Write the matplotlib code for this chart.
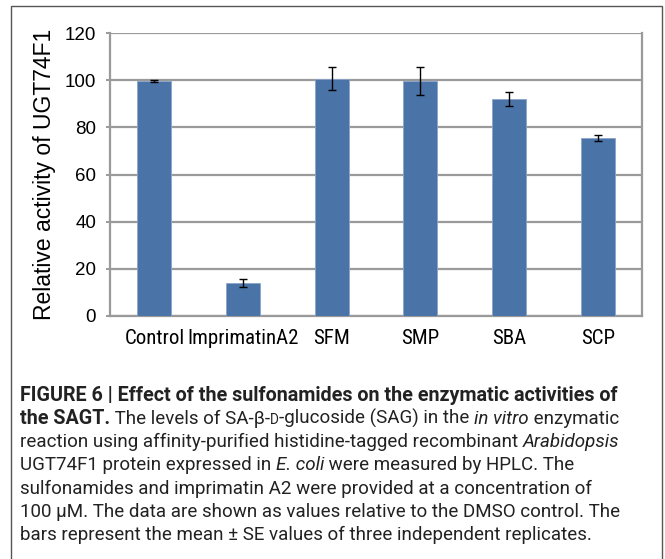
import matplotlib
matplotlib.use("Agg")
import matplotlib.pyplot as plt
import numpy as np
from matplotlib import font_manager
from matplotlib.patches import Rectangle

# data
categories = ["Control", "ImprimatinA2", "SFM", "SMP", "SBA", "SCP"]
activity = [99.6, 13.9, 100.6, 99.5, 92.0, 75.5]
se = [0.3, 1.8, 4.8, 6.0, 3.0, 1.3]
yticks = [0, 20, 40, 60, 80, 100, 120]


def pick_font(names):
    for name in names:
        try:
            font_manager.findfont(name, fallback_to_default=False)
            return name
        except Exception:
            pass
    return "DejaVu Sans"


base_font = pick_font(["Liberation Sans", "Arial"])
narrow_font = pick_font(["Liberation Sans Narrow", "Roboto Condensed", "Liberation Sans"])
caption_font = pick_font(["Roboto", "Liberation Sans"])

plt.rcParams["font.family"] = [base_font, "DejaVu Sans"]

fig = plt.figure(figsize=(6.65, 5.59), dpi=100)
W, H = 665, 559

ax = fig.add_axes([110 / W, 1 - 316 / H, (642 - 110) / W, (316 - 33) / H])

x = np.arange(len(categories))
ax.bar(x, activity, width=0.38, color="#4A73A7", edgecolor="#8AA6CB", linewidth=0.6, zorder=3)
ax.errorbar(x, activity, yerr=se, fmt="none", ecolor="black", elinewidth=1.0,
            capsize=3, capthick=1.0, zorder=4)

ax.set_xlim(-0.5, len(categories) - 0.5)
ax.set_ylim(0, 120)
ax.set_yticks(yticks)
ax.yaxis.grid(True, color="#9A9A9A", linewidth=1.6, zorder=0)
ax.set_axisbelow(True)

for side in ["left", "right", "bottom"]:
    ax.spines[side].set_color("#9A9A9A")
    ax.spines[side].set_linewidth(1.6)
ax.spines["top"].set_visible(False)

ax.tick_params(axis="y", length=3, width=1.4, color="#9A9A9A", pad=7, labelsize=13.5)
ax.tick_params(axis="x", length=0, pad=9)
ax.set_xticks(x)
ax.set_xticklabels(categories, fontsize=15, family=[narrow_font, "DejaVu Sans"])
# Excel placed the first label a little left of its bar
ax.get_xticklabels()[0].set_x(-0.06)
ax.set_ylabel("Relative activity of UGT74F1", fontsize=16.5, labelpad=6)

# frame around the whole panel
fig.patches.append(Rectangle((11 / W, -0.01), (662 - 11) / W, 1 - 6 / H + 0.01,
                             transform=fig.transFigure, fill=False,
                             edgecolor="#555555", linewidth=1.0))

# caption, built piece by piece (text, weight, style)
lines = [
    [("FIGURE 6 | Effect of the sulfonamides on the enzymatic activities of", "bold", "normal")],
    [("the SAGT.", "bold", "normal"), (" The levels of SA-\u03b2-", "normal", "normal"),
     ("D", "small", "normal"), ("-glucoside (SAG) in the ", "normal", "normal"),
     ("in vitro", "normal", "italic"), (" enzymatic", "normal", "normal")],
    [("reaction using affinity-purified histidine-tagged recombinant ", "normal", "normal"),
     ("Arabidopsis", "normal", "italic")],
    [("UGT74F1 protein expressed in ", "normal", "normal"), ("E. coli", "normal", "italic"),
     (" were measured by HPLC. The", "normal", "normal")],
    [("sulfonamides and imprimatin A2 were provided at a concentration of", "normal", "normal")],
    [("100 \u03bcM. The data are shown as values relative to the DMSO control. The", "normal", "normal")],
    [("bars represent the mean \u00b1 SE values of three independent replicates.", "normal", "normal")],
]
baselines = [401, 424, 447, 470, 494, 517, 540]
cap_left = 20
bold_width = 601    # first caption line, bold, in pixels
normal_width = 600  # sixth caption line, regular, in pixels

renderer = fig.canvas.get_renderer()


def piece_kw(weight, style, size):
    return dict(fontsize=size * (0.72 if weight == "small" else 1.0),
                fontweight="bold" if weight == "bold" else "normal",
                fontstyle=style, color="#222222",
                family=[caption_font, "DejaVu Sans"], va="baseline", ha="left")


def measure(txt, weight):
    probe = fig.text(0, 0, txt, **piece_kw(weight, "normal", 10))
    w = probe.get_window_extent(renderer).width
    probe.remove()
    return w


sizes = {
    "bold": 10 * bold_width / measure(lines[0][0][0], "bold"),
    "normal": 10 * normal_width / measure(lines[5][0][0], "normal"),
}
sizes["small"] = sizes["normal"]

for line, yb in zip(lines, baselines):
    cursor = cap_left
    for txt, weight, style in line:
        t = fig.text(cursor / W, 1 - yb / H, txt, **piece_kw(weight, style, sizes[weight]))
        cursor += t.get_window_extent(renderer).width

fig.savefig("out.png", dpi=100)
